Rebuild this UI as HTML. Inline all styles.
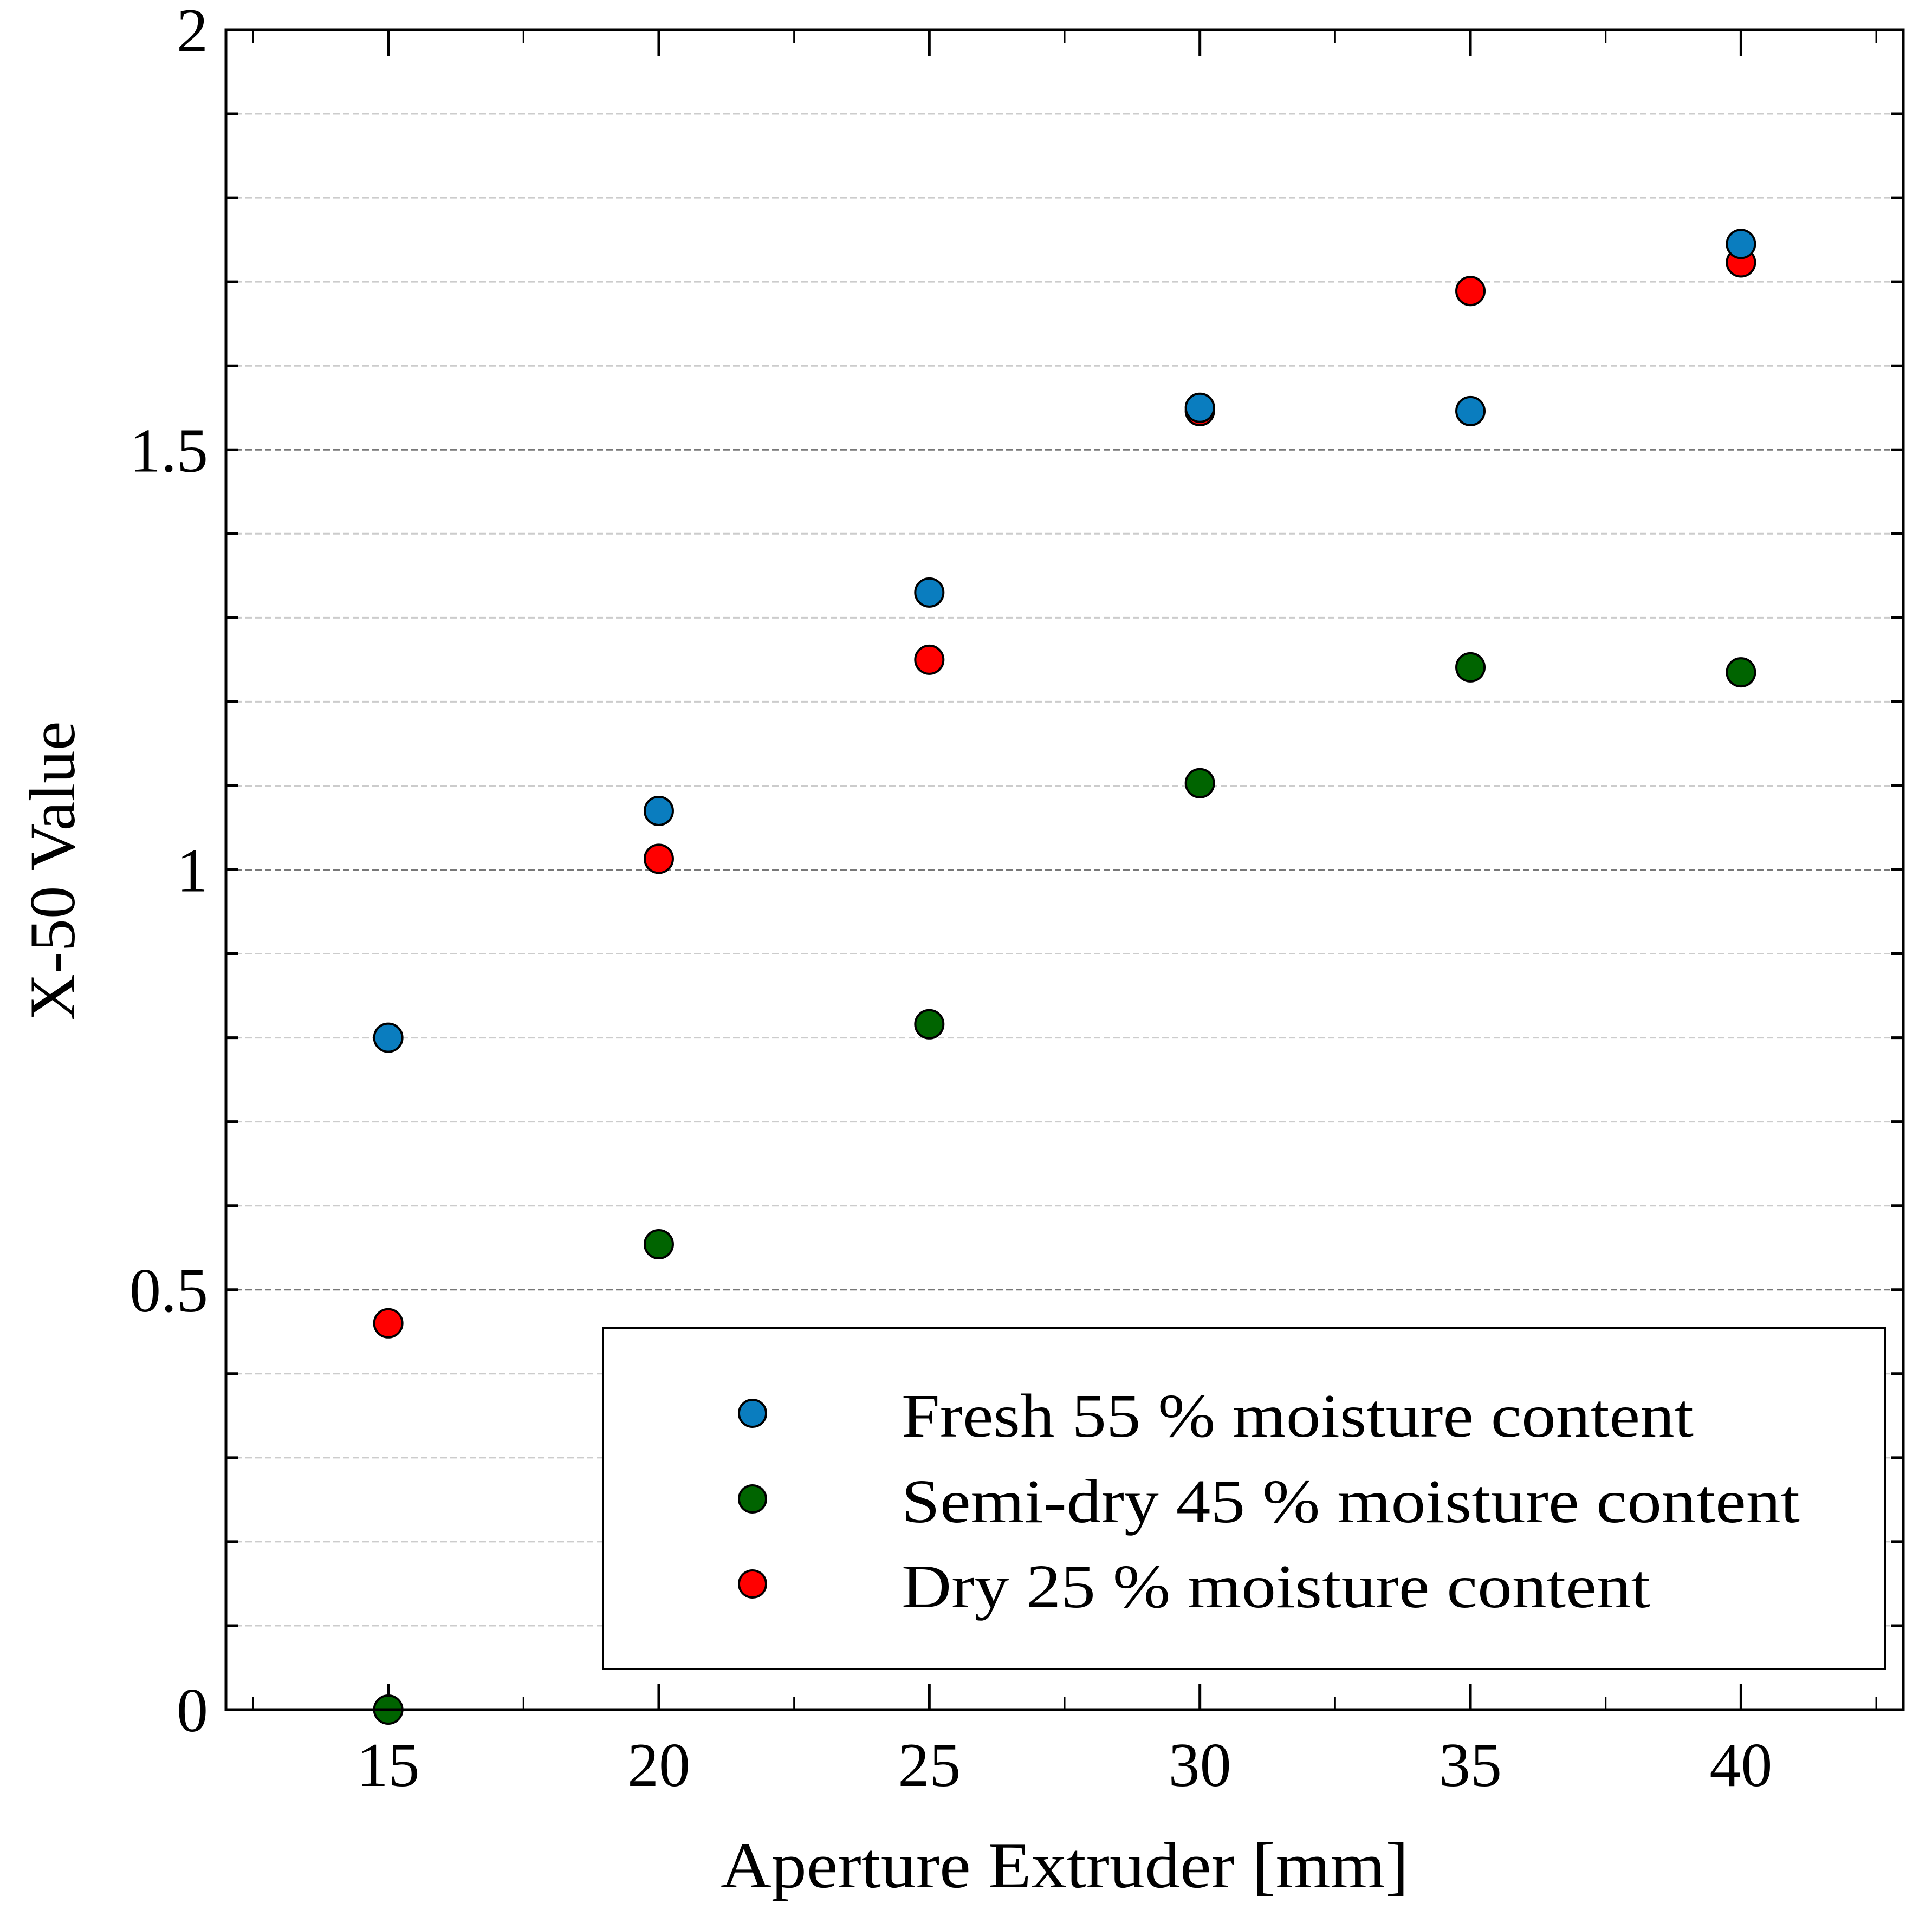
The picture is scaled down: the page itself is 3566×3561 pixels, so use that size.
<!DOCTYPE html>
<html><head><meta charset="utf-8"><style>html,body{margin:0;padding:0;background:#fff}svg{display:block}</style></head>
<body>
<svg id="chart" width="3566" height="3561" xmlns="http://www.w3.org/2000/svg" font-family="'Liberation Serif', serif">
<rect width="3566" height="3561" fill="#fff"/>
<g id="grid"></g>
<g id="ticks"></g>
<g id="points"></g>
<rect x="417" y="55" width="3096" height="3101" fill="none" stroke="#000" stroke-width="5"/>
<g>
<rect x="1113" y="2452" width="2366" height="629" fill="#fff" stroke="#000" stroke-width="4"/>
<circle cx="1389" cy="2609" r="25" fill="#0a7dbf" stroke="#000" stroke-width="4"/>
<circle cx="1389" cy="2767" r="25" fill="#006400" stroke="#000" stroke-width="4"/>
<circle cx="1389" cy="2924" r="25" fill="#ff0000" stroke="#000" stroke-width="4"/>
<text x="1664" y="2652" font-size="114" textLength="1462" lengthAdjust="spacingAndGlyphs">Fresh 55 % moisture content</text>
<text x="1664" y="2810" font-size="114" textLength="1658" lengthAdjust="spacingAndGlyphs">Semi-dry 45 % moisture content</text>
<text x="1664" y="2967" font-size="114" textLength="1382" lengthAdjust="spacingAndGlyphs">Dry 25 % moisture content</text>
</g>
<text x="1965" y="3484" font-size="120" text-anchor="middle" textLength="1270" lengthAdjust="spacingAndGlyphs">Aperture Extruder [mm]</text>
<text transform="translate(137,1608) rotate(-90)" font-size="120" text-anchor="middle" textLength="553" lengthAdjust="spacingAndGlyphs">X-50 Value</text>
</svg>
<script>
const categories = [15, 20, 25, 30, 35, 40];
const freshValues = [0.80, 1.07, 1.33, 1.55, 1.546, 1.745];
const semiDryValues = [0.0, 0.554, 0.816, 1.103, 1.241, 1.235];
const dryValues = [0.46, 1.013, 1.25, 1.546, 1.689, 1.723];
const xTickLabels = [15, 20, 25, 30, 35, 40];
const yTickLabels = ["0", "0.5", "1", "1.5", "2"];
const yTickValues = [0, 0.5, 1, 1.5, 2];

const NS = "http://www.w3.org/2000/svg";
const L = 417, R = 3513, T = 55, B = 3156;
const xMin = 12, xMax = 43, yMin = 0, yMax = 2;
function xs(v){ return L + (v - xMin) / (xMax - xMin) * (R - L); }
function ys(v){ return B - (v - yMin) / (yMax - yMin) * (B - T); }
function mk(tag, attrs, parent){ const e = document.createElementNS(NS, tag); for (const k in attrs) e.setAttribute(k, attrs[k]); parent.appendChild(e); return e; }

const grid = document.getElementById('grid');
const ticks = document.getElementById('ticks');
for (let i = 1; i < 20; i++) {
  const v = i / 10, y = ys(v), major = i % 5 === 0;
  const g = mk('line', {x1: L, x2: R, y1: y, y2: y, stroke: major ? '#777' : '#ccc', 'stroke-width': 3, 'stroke-dasharray': '12 6'}, grid);
  
  
}
for (let i = 0; i <= 20; i++) {
  const y = ys(i / 10);
  const a = mk('line', {x1: L, x2: L + 22, y1: y, y2: y, stroke: '#000', 'stroke-width': 5}, ticks);
  
  
  const b = mk('line', {x1: R - 22, x2: R, y1: y, y2: y, stroke: '#000', 'stroke-width': 5}, ticks);
  
  
}
for (let v = 12.5; v < 43; v += 2.5) {
  const x = xs(v), major = (v % 5 === 0), len = major ? 48 : 24;
  const a = mk('line', {x1: x, x2: x, y1: B, y2: B - len, stroke: '#000', 'stroke-width': major ? 5 : 3}, ticks);
  
  
  const b = mk('line', {x1: x, x2: x, y1: T, y2: T + len, stroke: '#000', 'stroke-width': major ? 5 : 3}, ticks);
  
  
}
xTickLabels.forEach(v => {
  const t = mk('text', {x: xs(v), y: 3297, 'font-size': 116, 'text-anchor': 'middle'}, ticks);
  t.textContent = v;
  
  
});
yTickLabels.forEach((s, i) => {
  const t = mk('text', {x: 384, y: ys(yTickValues[i]) + 40, 'font-size': 116, 'text-anchor': 'end'}, ticks);
  t.textContent = s;
  
  
});
const pts = document.getElementById('points');
function series(vals, color, name){
  vals.forEach((v, i) => {
    const c = mk('circle', {cx: xs(categories[i]), cy: ys(v), r: 26, fill: color, stroke: '#000', 'stroke-width': 4}, pts);
    
    
  });
}
series(semiDryValues, '#006400', 'point-semi-dry');
series(dryValues, '#ff0000', 'point-dry');
series(freshValues, '#0a7dbf', 'point-fresh');
</script>
</body></html>
